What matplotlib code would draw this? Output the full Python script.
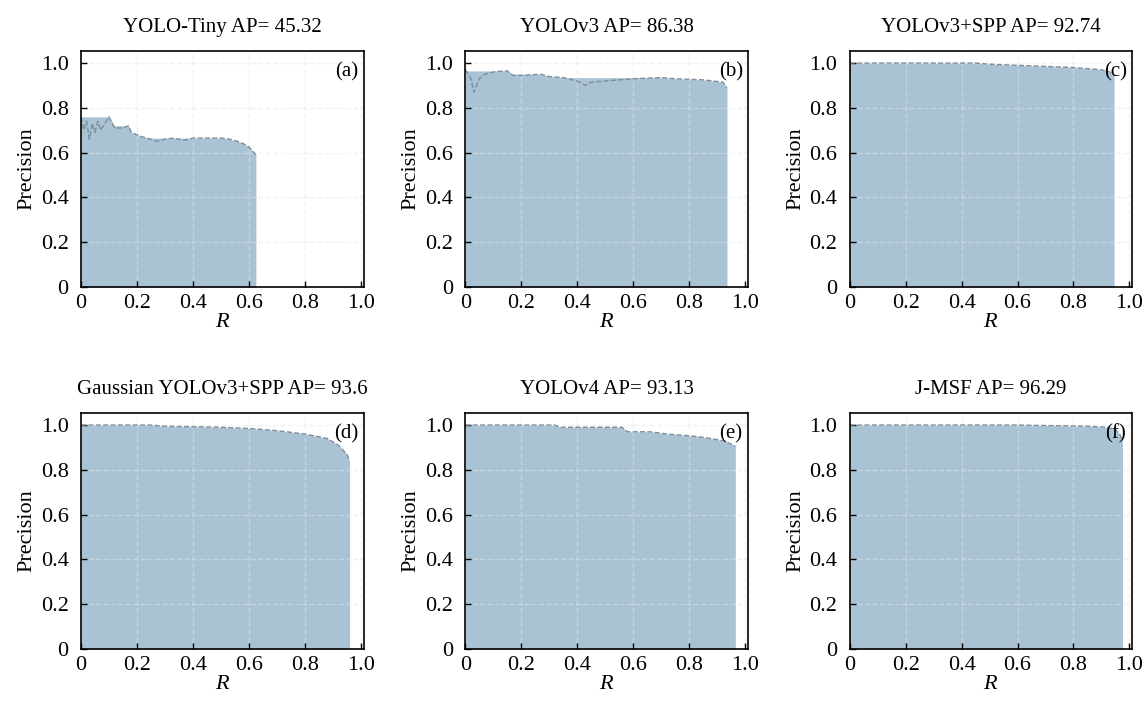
import numpy as np
import matplotlib
matplotlib.use("Agg")
import matplotlib.pyplot as plt

plt.rcParams["font.family"] = ["Liberation Serif", "DejaVu Serif"]
plt.rcParams["mathtext.fontset"] = "custom"
plt.rcParams["mathtext.it"] = "Liberation Serif:italic"

# ##################### DATA #####################
titles = [
    "YOLO-Tiny AP= 45.32",
    "YOLOv3 AP= 86.38",
    "YOLOv3+SPP AP= 92.74",
    "Gaussian YOLOv3+SPP AP= 93.6",
    "YOLOv4 AP= 93.13",
    "J-MSF AP= 96.29",
]
panel_tags = ["(a)", "(b)", "(c)", "(d)", "(e)", "(f)"]

recall_a = [0.0, 0.01, 0.02, 0.03, 0.04, 0.05, 0.06, 0.07, 0.08, 0.1, 0.12, 0.15, 0.17,
            0.18, 0.2, 0.22, 0.25, 0.27, 0.3, 0.33, 0.35, 0.37, 0.4, 0.45, 0.5, 0.53,
            0.56, 0.58, 0.6, 0.615, 0.625]
prec_a = [0.76, 0.70, 0.74, 0.66, 0.73, 0.69, 0.74, 0.70, 0.72, 0.76, 0.71, 0.71, 0.72,
          0.69, 0.68, 0.67, 0.66, 0.65, 0.66, 0.665, 0.66, 0.655, 0.665, 0.665, 0.665,
          0.66, 0.65, 0.64, 0.625, 0.605, 0.59]

recall_b = [0.0, 0.01, 0.02, 0.03, 0.05, 0.07, 0.1, 0.14, 0.15, 0.17, 0.2, 0.27, 0.3,
            0.35, 0.4, 0.43, 0.45, 0.5, 0.6, 0.7, 0.75, 0.85, 0.92, 0.935]
prec_b = [0.97, 0.95, 0.93, 0.87, 0.93, 0.95, 0.96, 0.965, 0.965, 0.945, 0.945, 0.95,
          0.94, 0.935, 0.92, 0.90, 0.915, 0.92, 0.93, 0.935, 0.93, 0.925, 0.915, 0.89]

recall_c = [0.0, 0.2, 0.45, 0.5, 0.6, 0.7, 0.8, 0.9, 0.93, 0.945]
prec_c = [1.0, 1.0, 1.0, 0.995, 0.99, 0.985, 0.98, 0.97, 0.96, 0.945]

recall_d = [0.0, 0.25, 0.3, 0.5, 0.6, 0.7, 0.8, 0.88, 0.92, 0.95, 0.96]
prec_d = [1.0, 1.0, 0.995, 0.99, 0.985, 0.975, 0.96, 0.94, 0.91, 0.87, 0.84]

recall_e = [0.0, 0.32, 0.34, 0.56, 0.58, 0.66, 0.72, 0.82, 0.88, 0.92, 0.96, 0.965]
prec_e = [1.0, 1.0, 0.99, 0.99, 0.97, 0.97, 0.96, 0.95, 0.94, 0.93, 0.91, 0.905]

recall_f = [0.0, 0.6, 0.85, 0.92, 0.95, 0.965, 0.975]
prec_f = [1.0, 1.0, 0.995, 0.99, 0.98, 0.96, 0.93]

curves = [(recall_a, prec_a), (recall_b, prec_b), (recall_c, prec_c),
          (recall_d, prec_d), (recall_e, prec_e), (recall_f, prec_f)]

tick_vals = [0, 0.2, 0.4, 0.6, 0.8, 1.0]
tick_labels = ["0", "0.2", "0.4", "0.6", "0.8", "1.0"]

# ##################### PLOT #####################
fig, axes = plt.subplots(2, 3, figsize=(11.46, 7.13), dpi=100)
fig.subplots_adjust(left=0.0707, right=0.988, top=0.9285, bottom=0.0898,
                    wspace=0.36, hspace=0.534)

fill_color = "#a9c3d5"

for ax, (rec, prec), title, tag in zip(axes.flat, curves, titles, panel_tags):
    rec = np.array(rec)
    prec = np.array(prec)
    # interpolated precision envelope (max precision to the right)
    env = np.maximum.accumulate(prec[::-1])[::-1]
    ax.fill_between(rec, 0, env, color=fill_color, zorder=1, linewidth=0)
    ax.plot(rec, prec, linestyle="--", color="#7f8c99", linewidth=1.0, zorder=3)

    ax.set_xlim(0, 1.01)
    ax.set_ylim(0, 1.054)
    ax.set_xticks(tick_vals)
    ax.set_xticklabels(tick_labels)
    ax.set_yticks(tick_vals)
    ax.set_yticklabels(tick_labels)
    ax.tick_params(direction="in", labelsize=16, length=4, width=1)
    ax.tick_params(axis="x", pad=5)
    ax.tick_params(axis="y", pad=9)
    ax.set_axisbelow(False)
    ax.grid(True, linestyle="--", color="#e4e4e4", linewidth=1.0, alpha=0.5)
    # no grid line on top of the left / bottom spines
    ax.xaxis.get_gridlines()[0].set_visible(False)
    ax.yaxis.get_gridlines()[0].set_visible(False)
    for sp in ax.spines.values():
        sp.set_linewidth(1.2)
        sp.set_zorder(5)

    ax.set_title(title, fontsize=15, pad=14)
    ax.set_ylabel("Precision", fontsize=16, labelpad=3)
    ax.set_xlabel("$R$", fontsize=16, labelpad=0)
    ax.text(0.94, 0.91, tag, transform=ax.transAxes, fontsize=15,
            ha="center", va="center", zorder=4)

fig.savefig("out.png", dpi=100)
